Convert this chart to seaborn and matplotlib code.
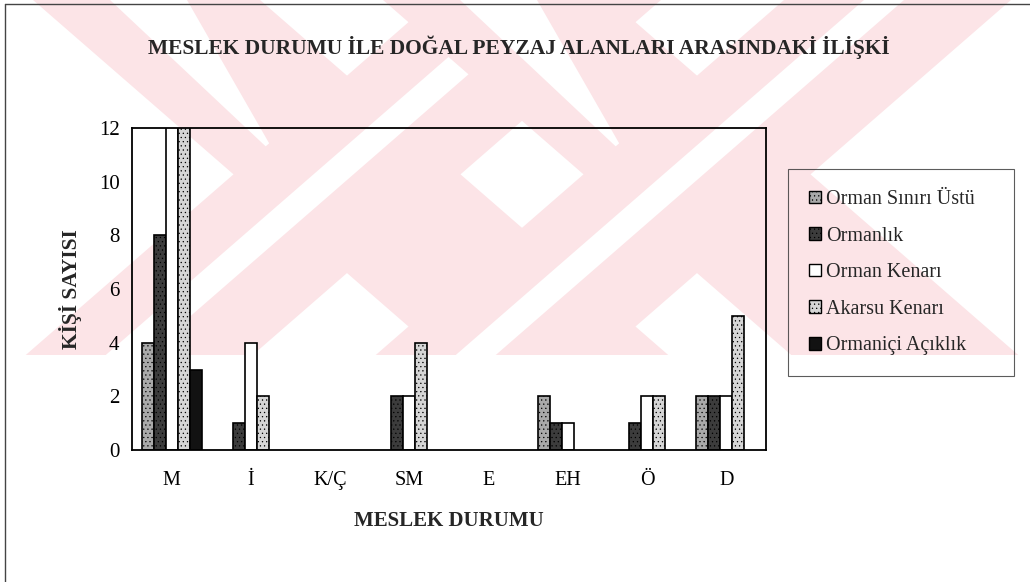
import numpy as np
import pandas as pd
import matplotlib
matplotlib.use("Agg")
import matplotlib.pyplot as plt
import matplotlib.patches as mpatches
from matplotlib.lines import Line2D
import seaborn as sns

# ── Data ───────────────────────────────────────────────────────────────────────
CATEGORIES = ["M", "İ", "K/Ç", "SM", "E", "EH", "Ö", "D"]
SERIES = ["Orman Sınırı Üstü", "Ormanlık", "Orman Kenarı", "Akarsu Kenarı", "Ormaniçi Açıklık"]
ORMAN_SINIRI_USTU = [4, 0, 0, 0, 0, 2, 0, 2]
ORMANLIK = [8, 1, 0, 2, 0, 1, 1, 2]
ORMAN_KENARI = [14, 4, 0, 2, 0, 1, 2, 2]      # M value runs off the top of the axis
AKARSU_KENARI = [13, 2, 0, 4, 0, 0, 2, 5]     # M value runs off the top of the axis
ORMANICI_ACIKLIK = [3, 0, 0, 0, 0, 0, 0, 0]

COLORS = ["#a9a9a9", "#3c3c3c", "#ffffff", "#d6d6d6", "#121212"]
HATCHES = ["....", "....", "", "....", ""]
PINK = "#fce4e7"

W, H = 1030, 582

df = pd.DataFrame({
    "meslek": CATEGORIES * len(SERIES),
    "alan": np.repeat(SERIES, len(CATEGORIES)),
    "kisi": ORMAN_SINIRI_USTU + ORMANLIK + ORMAN_KENARI + AKARSU_KENARI + ORMANICI_ACIKLIK,
})

sns.set_style("white")
plt.rcParams["font.family"] = ["Liberation Serif", "DejaVu Serif"]
plt.rcParams["hatch.linewidth"] = 0.4
plt.rcParams["hatch.color"] = "#555555"

fig = plt.figure(figsize=(W / 100, H / 100), dpi=100, facecolor="white")

# ── background watermark (scanned page), pixel coordinates ─────────────────────
bg = fig.add_axes([0, 0, 1, 1], zorder=-5)
bg.set_xlim(0, W)
bg.set_ylim(H, 0)
bg.axis("off")

CUT = 355
SL = 1.15


def leg(x0, x1, s):
    return [(x0, 0), (x1, 0), (x1 + s * CUT, CUT), (x0 + s * CUT, CUT)]


for cx in [347, 697]:
    x0 = cx - 314
    # "\" leg: pink band, white stripe that stops where the other leg crosses
    bg.add_patch(mpatches.Polygon(leg(x0, x0 + 227, SL), facecolor=PINK, edgecolor="none"))
    bg.add_patch(mpatches.Polygon([(x0 + 77, 0), (x0 + 154, 0), (x0 + 244, 157)],
                                  facecolor="white", edgecolor="none"))
    # "/" leg: pink band with a white stripe all the way down
    x0 = cx + 87
    bg.add_patch(mpatches.Polygon(leg(x0, x0 + 227, -SL), facecolor=PINK, edgecolor="none"))
    bg.add_patch(mpatches.Polygon(leg(x0 + 80, x0 + 120, -SL), facecolor="white", edgecolor="none"))
bg.add_patch(mpatches.Rectangle((0, CUT), W, H - CUT, facecolor="white", edgecolor="none"))

# ── chart ─────────────────────────────────────────────────────────────────────
ax = fig.add_axes([132 / W, 1 - 450 / H, 634 / W, 322 / H])
ax.patch.set_alpha(0)
sns.barplot(data=df, x="meslek", y="kisi", hue="alan", hue_order=SERIES, order=CATEGORIES,
            palette=COLORS, width=0.755, gap=0, edgecolor="black", linewidth=1.2,
            saturation=1, legend=False, ax=ax)

for i, cont in enumerate(ax.containers):
    for bar in cont:
        bar.set_hatch(HATCHES[i])
        if bar.get_height() == 0:
            bar.set_visible(False)

ax.set_ylim(0, 12)
ax.set_xlim(-0.5, len(CATEGORIES) - 0.5)
ax.set_yticks(range(0, 13, 2))
ax.set_xticks(range(len(CATEGORIES)))
ax.set_xticklabels(CATEGORIES, fontsize=14.5)
ax.set_xticks(np.arange(-0.5, len(CATEGORIES), 1), minor=True)
ax.tick_params(axis="x", which="major", length=0, pad=15)
ax.tick_params(axis="x", which="minor", length=6, width=1, direction="out", color="black")
ax.tick_params(axis="y", length=6, width=1, direction="out", color="black", labelsize=15, pad=3)
ax.tick_params(colors="black")
for sp in ax.spines.values():
    sp.set_visible(True)
    sp.set_color("black")
    sp.set_linewidth(1.3)

ax.set_xlabel("MESLEK DURUMU", fontsize=15, fontweight="bold", labelpad=15)
ax.set_ylabel("KİŞİ SAYISI", fontsize=15.5, fontweight="bold", labelpad=12)

fig.text(519 / W, 1 - 47 / H, "MESLEK DURUMU İLE DOĞAL PEYZAJ ALANLARI ARASINDAKİ İLİŞKİ",
         ha="center", va="center", fontsize=15.5, fontweight="bold")

handles = [mpatches.Patch(facecolor=c, edgecolor="black", hatch=h, linewidth=1, label=s)
           for c, h, s in zip(COLORS, HATCHES, SERIES)]
leg_ = fig.legend(handles=handles, loc="upper left",
                  bbox_to_anchor=(788 / W, 1 - 169 / H, 226 / W, 0.0), mode="expand",
                  frameon=True, fancybox=False, fontsize=14.5, handlelength=0.6,
                  handleheight=0.6, handletextpad=0.25, labelspacing=0.87,
                  borderpad=1.05, borderaxespad=0)
leg_.get_frame().set_edgecolor("#333333")
leg_.get_frame().set_linewidth(0.8)
leg_.get_frame().set_facecolor("none")

# outer frame of the scanned chart
fig.add_artist(Line2D([5 / W, 5 / W], [0, 1 - 4 / H], transform=fig.transFigure, color="#444444", lw=1))
fig.add_artist(Line2D([5 / W, 1], [1 - 4 / H, 1 - 4 / H], transform=fig.transFigure, color="#444444", lw=1))

fig.savefig("out.png", dpi=100, facecolor="white")
